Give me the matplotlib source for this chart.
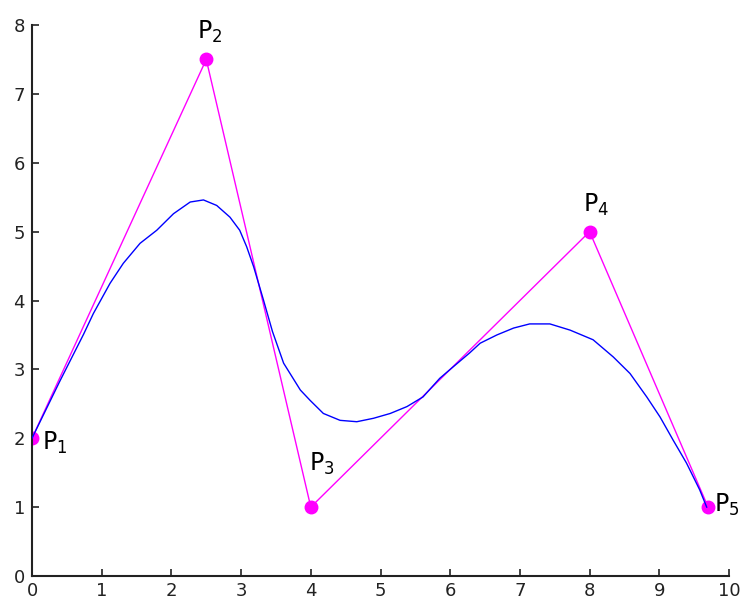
import matplotlib
matplotlib.use("Agg")
import matplotlib.pyplot as plt

# Control polygon
ctrl_x = [0.0, 2.5, 4.0, 8.0, 9.7]
ctrl_y = [2.0, 7.5, 1.0, 5.0, 1.0]
ctrl_labels = ["P$_1$", "P$_2$", "P$_3$", "P$_4$", "P$_5$"]
label_x = [0.14, 2.37, 3.97, 7.91, 9.79]
label_y = [1.83, 7.80, 1.53, 5.29, 0.93]

# Blue curve
curve_x = [0.00, 0.40, 0.74, 0.88, 1.12, 1.31, 1.55, 1.79, 2.03, 2.27, 2.46,
           2.65, 2.84, 2.98, 3.08, 3.18, 3.32, 3.45, 3.61, 3.85, 3.99, 4.18,
           4.42, 4.66, 4.90, 5.14, 5.38, 5.61, 5.85, 6.00, 6.28, 6.43, 6.67,
           6.91, 7.14, 7.43, 7.72, 8.05, 8.34, 8.58, 8.82, 9.01, 9.20, 9.39,
           9.58, 9.68]
curve_y = [2.00, 2.83, 3.51, 3.81, 4.25, 4.54, 4.83, 5.02, 5.26, 5.43, 5.46,
           5.38, 5.21, 5.02, 4.78, 4.49, 4.01, 3.55, 3.09, 2.70, 2.55, 2.36,
           2.26, 2.24, 2.29, 2.36, 2.46, 2.60, 2.87, 3.00, 3.24, 3.38, 3.50,
           3.60, 3.66, 3.66, 3.57, 3.43, 3.18, 2.94, 2.60, 2.31, 1.97, 1.64,
           1.25, 1.00]

xticks = list(range(0, 11))
yticks = list(range(0, 9))

fig = plt.figure(figsize=(7.41, 6.01), dpi=100)
ax = fig.add_axes([32 / 741, 25 / 601, 697 / 741, 551 / 601])

ax.plot(ctrl_x, ctrl_y, color="#ff00ff", lw=1.0, marker="o", ms=9,
        mfc="#ff00ff", mec="#ff00ff", zorder=2)
ax.plot(curve_x, curve_y, color="#0000ff", lw=1.0, zorder=3)

for lx, ly, t in zip(label_x, label_y, ctrl_labels):
    ax.text(lx, ly, t, fontsize=17, ha="left", va="baseline", color="black",
            clip_on=False)

ax.set_xlim(0, 10)
ax.set_ylim(0, 8)
ax.set_xticks(xticks)
ax.set_yticks(yticks)
ax.spines["top"].set_visible(False)
ax.spines["right"].set_visible(False)
for s in ("left", "bottom"):
    ax.spines[s].set_linewidth(1.5)
    ax.spines[s].set_color("#222222")
ax.tick_params(direction="in", length=5, width=1.2, labelsize=13,
               colors="#222222")
ax.tick_params(axis="x", pad=4)
ax.tick_params(axis="y", pad=5)

fig.savefig("out.png", dpi=100)
